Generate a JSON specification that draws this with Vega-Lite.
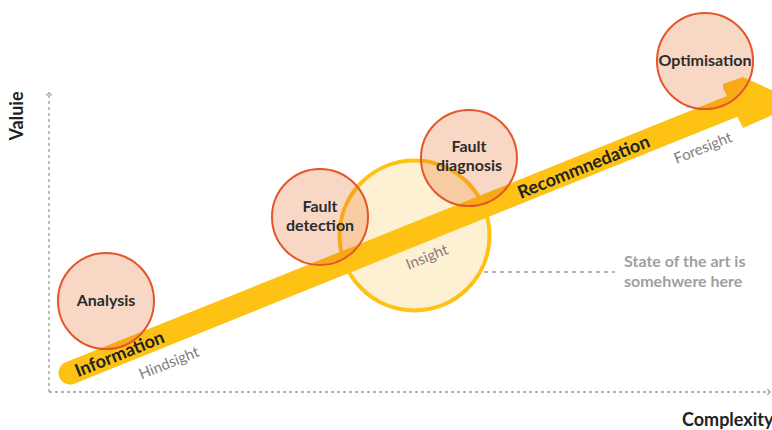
{
  "$schema": "https://vega.github.io/schema/vega-lite/v6.json",
  "width": 772,
  "height": 430,
  "autosize": "none",
  "padding": 0,
  "background": "white",
  "config": {"view": {"stroke": null}, "font": "Lato"},
  "datasets": {
    "axes": [
      {"x": 49, "y": 392, "x2": 49, "y2": 94},
      {"x": 49, "y": 392, "x2": 769, "y2": 392}
    ],
    "tipUp": [{"x": 49, "y": 94}],
    "tipRight": [{"x": 769, "y": 392}],
    "stateLine": [{"x": 476, "y": 272, "x2": 615, "y2": 272}],
    "insight": [{"x": 414.5, "y": 235.5}],
    "shaft": [{"x": 70, "y": 373, "x2": 738, "y2": 104}],
    "head": [
      {"x": 723, "y": 84, "y2": 88},
      {"x": 743, "y": 77, "y2": 128},
      {"x": 800, "y": 103, "y2": 103}
    ],
    "stages": [
      {"x": 106, "y": 301, "label": "Analysis"},
      {"x": 320, "y": 217, "label": "Fault detection"},
      {"x": 469, "y": 158, "label": "Fault diagnosis"},
      {"x": 705, "y": 61, "label": "Optimisation"}
    ],
    "stageLabels": [
      {"x": 106, "y": 301, "label": "Analysis"},
      {"x": 320, "y": 207, "label": "Fault\ndetection"},
      {"x": 469, "y": 147, "label": "Fault\ndiagnosis"},
      {"x": 705, "y": 61, "label": "Optimisation"}
    ],
    "arrowText": [
      {"x": 120, "y": 355, "label": "Information"},
      {"x": 584, "y": 168, "label": "Recommnedation"}
    ],
    "sightText": [
      {"x": 169, "y": 363, "label": "Hindsight"},
      {"x": 427, "y": 257, "label": "Insight"},
      {"x": 703, "y": 148, "label": "Foresight"}
    ],
    "stateText": [{"x": 624, "y": 262, "label": "State of the art is\nsomehwere here"}],
    "valueTitle": [{"x": 18, "y": 116, "label": "Valuie"}],
    "complexTitle": [{"x": 682, "y": 421, "label": "Complexity"}]
  },
  "encoding": {
    "x": {"field": "x", "type": "quantitative", "scale": {"domain": [0, 772], "nice": false, "zero": false}, "axis": null},
    "y": {"field": "y", "type": "quantitative", "scale": {"domain": [0, 430], "reverse": true, "nice": false, "zero": false}, "axis": null}
  },
  "layer": [
    {
      "data": {"name": "axes"},
      "mark": {"type": "rule", "color": "#9a9a9a", "strokeWidth": 1.3, "strokeDash": [3, 3]},
      "encoding": {"x2": {"field": "x2"}, "y2": {"field": "y2"}}
    },
    {
      "data": {"name": "tipUp"},
      "mark": {"type": "point", "shape": "M -1 0.6 L 0 -0.4 L 1 0.6", "size": 30, "filled": false, "stroke": "#9a9a9a", "strokeWidth": 1.3, "opacity": 1}
    },
    {
      "data": {"name": "tipRight"},
      "mark": {"type": "point", "shape": "M -0.6 -1 L 0.4 0 L -0.6 1", "size": 30, "filled": false, "stroke": "#9a9a9a", "strokeWidth": 1.3, "opacity": 1}
    },
    {
      "data": {"name": "stateLine"},
      "mark": {"type": "rule", "color": "#9a9a9a", "strokeWidth": 1.5, "strokeDash": [4, 4]},
      "encoding": {"x2": {"field": "x2"}, "y2": {"field": "y2"}}
    },
    {
      "data": {"name": "insight"},
      "mark": {"type": "point", "shape": "circle", "size": 22500, "filled": true, "fill": "#FEF0D2", "stroke": "#FDC214", "strokeWidth": 4, "opacity": 1}
    },
    {
      "data": {"name": "shaft"},
      "mark": {"type": "rule", "color": "#FDC214", "strokeWidth": 23, "strokeCap": "round"},
      "encoding": {"x2": {"field": "x2"}, "y2": {"field": "y2"}}
    },
    {
      "data": {"name": "head"},
      "mark": {"type": "area", "color": "#FDC214", "opacity": 1},
      "encoding": {"y2": {"field": "y2"}}
    },
    {
      "data": {"name": "sightText"},
      "mark": {"type": "text", "fontSize": 15, "color": "#7d7d7d", "angle": 338, "align": "center", "baseline": "middle"},
      "encoding": {"text": {"field": "label"}}
    },
    {
      "data": {"name": "stages"},
      "mark": {"type": "point", "shape": "circle", "size": 9216, "filled": true, "fill": "#E8661E", "fillOpacity": 0.26, "stroke": "#E4552A", "strokeWidth": 2, "strokeOpacity": 1, "opacity": 1}
    },
    {
      "data": {"name": "arrowText"},
      "mark": {"type": "text", "fontSize": 18, "fontWeight": "bold", "color": "#222222", "angle": 338, "align": "center", "baseline": "middle"},
      "encoding": {"text": {"field": "label"}}
    },
    {
      "data": {"name": "stageLabels"},
      "mark": {"type": "text", "fontSize": 16, "fontWeight": "bold", "color": "#2b2b2b", "align": "center", "baseline": "middle", "lineBreak": "\n", "lineHeight": 19},
      "encoding": {"text": {"field": "label"}}
    },
    {
      "data": {"name": "stateText"},
      "mark": {"type": "text", "fontSize": 16, "fontWeight": "bold", "color": "#a0a0a0", "align": "left", "baseline": "middle", "lineBreak": "\n", "lineHeight": 20},
      "encoding": {"text": {"field": "label"}}
    },
    {
      "data": {"name": "valueTitle"},
      "mark": {"type": "text", "fontSize": 18, "fontWeight": "bold", "color": "#222222", "angle": 270, "align": "center", "baseline": "middle"},
      "encoding": {"text": {"field": "label"}}
    },
    {
      "data": {"name": "complexTitle"},
      "mark": {"type": "text", "fontSize": 18, "fontWeight": "bold", "color": "#222222", "align": "left", "baseline": "middle"},
      "encoding": {"text": {"field": "label"}}
    }
  ]
}
